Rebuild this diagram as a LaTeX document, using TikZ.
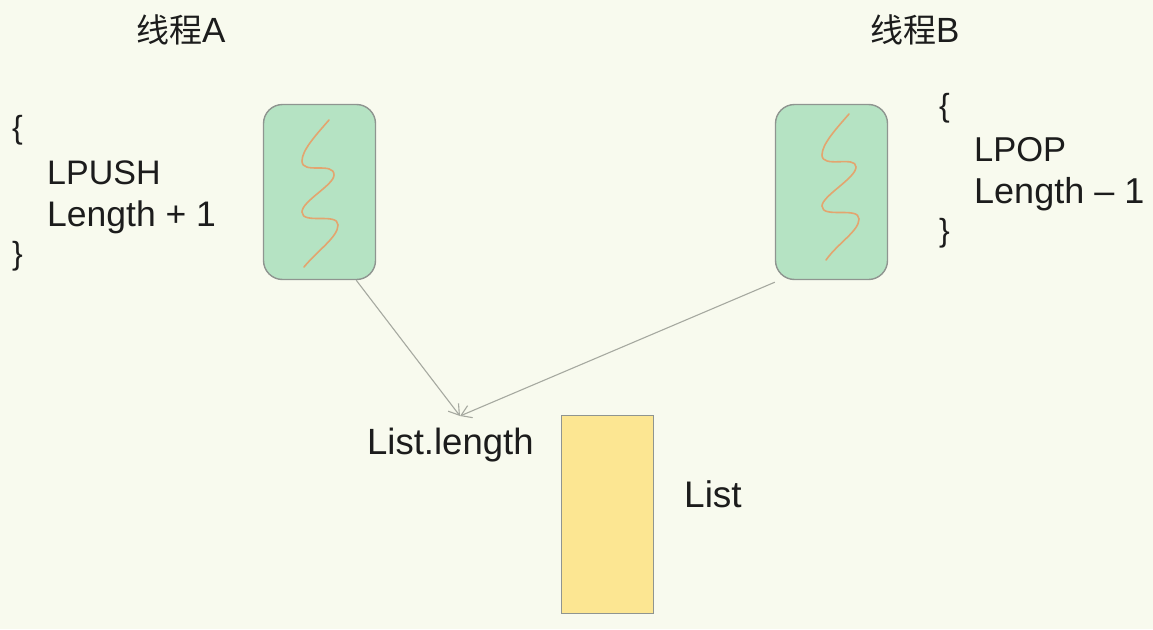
\documentclass[tikz,border=0pt]{standalone}
\usepackage{fontspec}
\setmainfont{Liberation Sans}
\newfontfamily\cjk{Noto Sans CJK SC}
\usetikzlibrary{arrows.meta}
\definecolor{bgc}{HTML}{F8FAEE}
\definecolor{greenc}{HTML}{B5E3C3}
\definecolor{yellowc}{HTML}{FCE692}
\definecolor{edgec}{HTML}{8F9590}
\definecolor{linec}{HTML}{A6A9A0}
\definecolor{threadc}{HTML}{E3A56F}
\definecolor{textc}{HTML}{1C1C1C}
\newcommand{\fsz}[1]{\fontsize{#1}{40}\selectfont}
\tikzset{
  x=1pt,y=-1pt,
  thread/.style={rectangle,draw=edgec,line width=1.4pt,fill=greenc,rounded corners=19pt,minimum width=112pt,minimum height=175pt,inner sep=0pt},
  listbox/.style={rectangle,draw=edgec,line width=1pt,fill=yellowc,minimum width=92pt,minimum height=198pt,inner sep=0pt},
  lab/.style={inner sep=0pt,text=textc,font=\fsz{35},anchor=base west},
  squiggle/.style={draw=threadc,line width=1.6pt,line cap=round},
  conn/.style={draw=linec,line width=1.1pt,-{Straight Barb[length=10pt,width=13pt,line width=1.1pt]}}
}
\begin{document}
\begin{tikzpicture}
\useasboundingbox (0,0) rectangle (1153,629);
\fill[bgc] (0,0) rectangle (1153,629);
\node[thread] (boxA) at (319.5,192) {};
\node[thread] (boxB) at (831.5,192) {};
\node[listbox] (list) at (607.5,514.5) {};
\node[lab] (titleA) at (136,42) {{\cjk\fsz{33}线程}A};
\node[lab] (titleB) at (870,42) {{\cjk\fsz{33}线程}B};
\node[lab,font=\fsz{32}] (a1) at (12,138) {\{};
\node[lab,font=\fsz{34}] (a2) at (47,184) {LPUSH};
\node[lab,font=\fsz{35.5}] (a3) at (47,226) {Length + 1};
\node[lab,font=\fsz{32}] (a4) at (12,264) {\}};
\node[lab,font=\fsz{32}] (b1) at (939,116) {\{};
\node[lab,font=\fsz{34.5}] (b2) at (974,161) {LPOP};
\node[lab,font=\fsz{36}] (b3) at (974,203) {Length – 1};
\node[lab,font=\fsz{32}] (b4) at (939,241) {\}};
\node[lab,font=\fsz{36.5}] (ll) at (367,454) {List.length};
\node[lab,font=\fsz{37}] (lt) at (684,507) {List};
\draw[squiggle] (329,120) .. controls (316,135) and (302,150) .. (302,161)
  .. controls (302,175) and (334,161) .. (334,175)
  .. controls (334,185) and (302,201) .. (302,212)
  .. controls (302,225) and (338,212) .. (338,225)
  .. controls (338,237) and (318,250) .. (304,267);
\draw[squiggle] (849,114) .. controls (836,129) and (822,144) .. (822,155)
  .. controls (822,169) and (856,155) .. (856,167)
  .. controls (856,178) and (822,196) .. (822,206)
  .. controls (822,219) and (859,206) .. (859,219)
  .. controls (859,231) and (838,243) .. (826,260);
\coordinate (tip) at (460,416);
\coordinate (startA) at (boxA.south east);
\draw[conn] ([xshift=-20pt]startA) -- (tip);
\draw[conn] ([yshift=-2pt]boxB.south west) -- (tip);
\end{tikzpicture}
\end{document}
